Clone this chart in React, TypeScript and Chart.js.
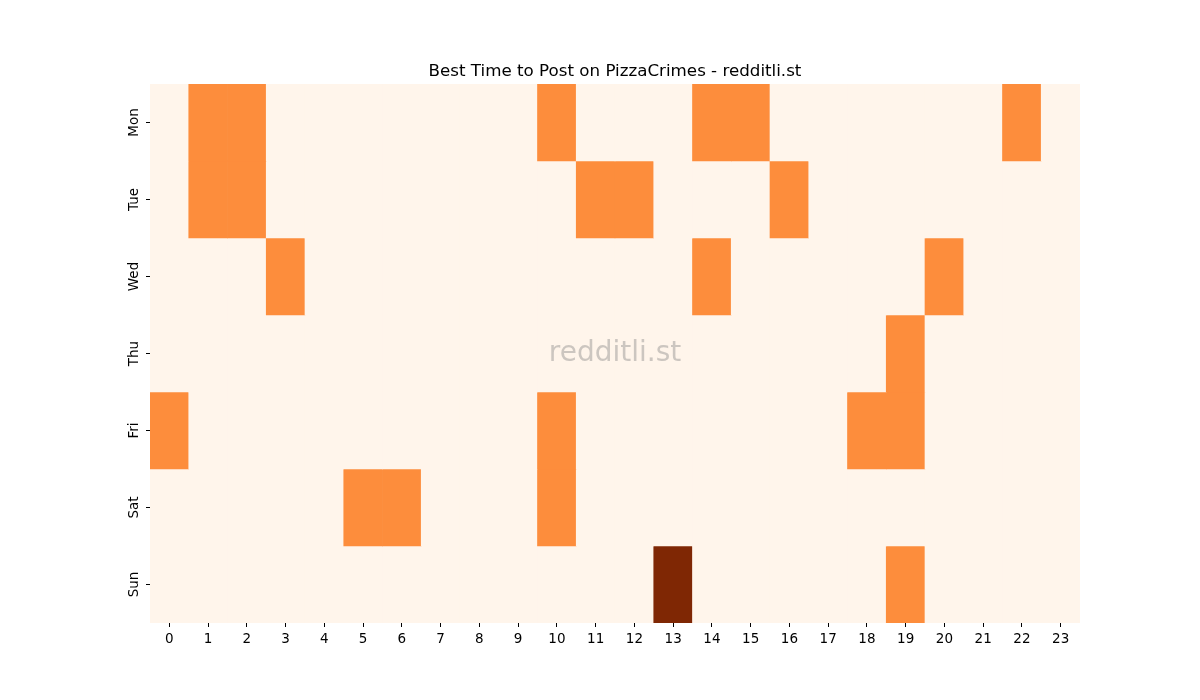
import React, { useEffect, useRef } from "react";
import { Chart, registerables } from "chart.js";

Chart.register(...registerables);

const days = ["Mon", "Tue", "Wed", "Thu", "Fri", "Sat", "Sun"];
const hours = Array.from({ length: 24 }, (_, i) => String(i));
const title = "Best Time to Post on PizzaCrimes - redditli.st";

// activity level per day (rows) and hour (columns): 0 = low, 1 = medium, 2 = high
const mon = [0, 1, 1, 0, 0, 0, 0, 0, 0, 0, 1, 0, 0, 0, 1, 1, 0, 0, 0, 0, 0, 0, 1, 0];
const tue = [0, 1, 1, 0, 0, 0, 0, 0, 0, 0, 0, 1, 1, 0, 0, 0, 1, 0, 0, 0, 0, 0, 0, 0];
const wed = [0, 0, 0, 1, 0, 0, 0, 0, 0, 0, 0, 0, 0, 0, 1, 0, 0, 0, 0, 0, 1, 0, 0, 0];
const thu = [0, 0, 0, 0, 0, 0, 0, 0, 0, 0, 0, 0, 0, 0, 0, 0, 0, 0, 0, 1, 0, 0, 0, 0];
const fri = [1, 0, 0, 0, 0, 0, 0, 0, 0, 0, 1, 0, 0, 0, 0, 0, 0, 0, 1, 1, 0, 0, 0, 0];
const sat = [0, 0, 0, 0, 0, 1, 1, 0, 0, 0, 1, 0, 0, 0, 0, 0, 0, 0, 0, 0, 0, 0, 0, 0];
const sun = [0, 0, 0, 0, 0, 0, 0, 0, 0, 0, 0, 0, 0, 2, 0, 0, 0, 0, 0, 1, 0, 0, 0, 0];
const rows = [mon, tue, wed, thu, fri, sat, sun];

const palette = ["#fff5eb", "#fd8d3c", "#7f2704"];
const FONT = "'DejaVu Sans', sans-serif";

const decorations = {
  id: "decorations",
  afterDraw(chart: any) {
    const { ctx, chartArea } = chart;
    const cx = (chartArea.left + chartArea.right) / 2;
    const cy = (chartArea.top + chartArea.bottom) / 2;
    ctx.save();
    // watermark
    ctx.font = `28px ${FONT}`;
    ctx.fillStyle = "rgba(128,128,128,0.4)";
    ctx.textAlign = "center";
    ctx.textBaseline = "middle";
    ctx.fillText("redditli.st", cx, cy);
    // title
    ctx.font = `16.7px ${FONT}`;
    ctx.fillStyle = "#000";
    ctx.textBaseline = "alphabetic";
    ctx.fillText(title, cx, chartArea.top - 8);
    // y tick labels, rotated
    const ys = chart.scales.y;
    ctx.font = `13.5px ${FONT}`;
    days.forEach((d, i) => {
      const y = ys.getPixelForValue(i + 0.5);
      ctx.save();
      ctx.translate(chartArea.left - 12, y);
      ctx.rotate(-Math.PI / 2);
      ctx.textAlign = "center";
      ctx.textBaseline = "alphabetic";
      ctx.fillText(d, 0, 0);
      ctx.restore();
    });
    ctx.restore();
  },
};

export default function App() {
  const ref = useRef<HTMLCanvasElement>(null);
  useEffect(() => {
    document.body.style.margin = "0";
    const datasets = rows.map((row, d) => ({
      label: days[d],
      data: row.map(() => [d, d + 1]),
      backgroundColor: row.map((v) => palette[v]),
      borderWidth: 0,
      barPercentage: 1,
      categoryPercentage: 1,
      grouped: false,
    }));
    const chart = new Chart(ref.current!, {
      type: "bar",
      data: { labels: hours, datasets: datasets as any },
      options: {
        responsive: false,
        animation: false,
        layout: { padding: { top: 84, right: 120, bottom: 0, left: 0 } },
        plugins: {
          legend: { display: false },
          tooltip: { enabled: false },
          title: { display: false },
        },
        scales: {
          x: {
            type: "category",
            grid: { drawOnChartArea: false, drawTicks: true, tickLength: 4, tickColor: "#000", offset: false },
            border: { display: false },
            ticks: { color: "#000", font: { family: FONT, size: 13.5 }, padding: 4, maxRotation: 0, autoSkip: false },
            afterFit: (s: any) => { s.height = 77; },
          },
          y: {
            type: "linear",
            min: 0,
            max: 7,
            reverse: true,
            grid: { drawOnChartArea: false, drawTicks: true, tickLength: 4, tickColor: "#000" },
            border: { display: false },
            afterBuildTicks: (s: any) => { s.ticks = days.map((_, i) => ({ value: i + 0.5 })); },
            ticks: { display: false },
            afterFit: (s: any) => { s.width = 150; },
          },
        },
      },
      plugins: [decorations],
    });
    return () => chart.destroy();
  }, []);
  return (
    <div style={{ width: 1200, height: 700, background: "#fff" }}>
      <canvas ref={ref} width={1200} height={700} />
    </div>
  );
}
